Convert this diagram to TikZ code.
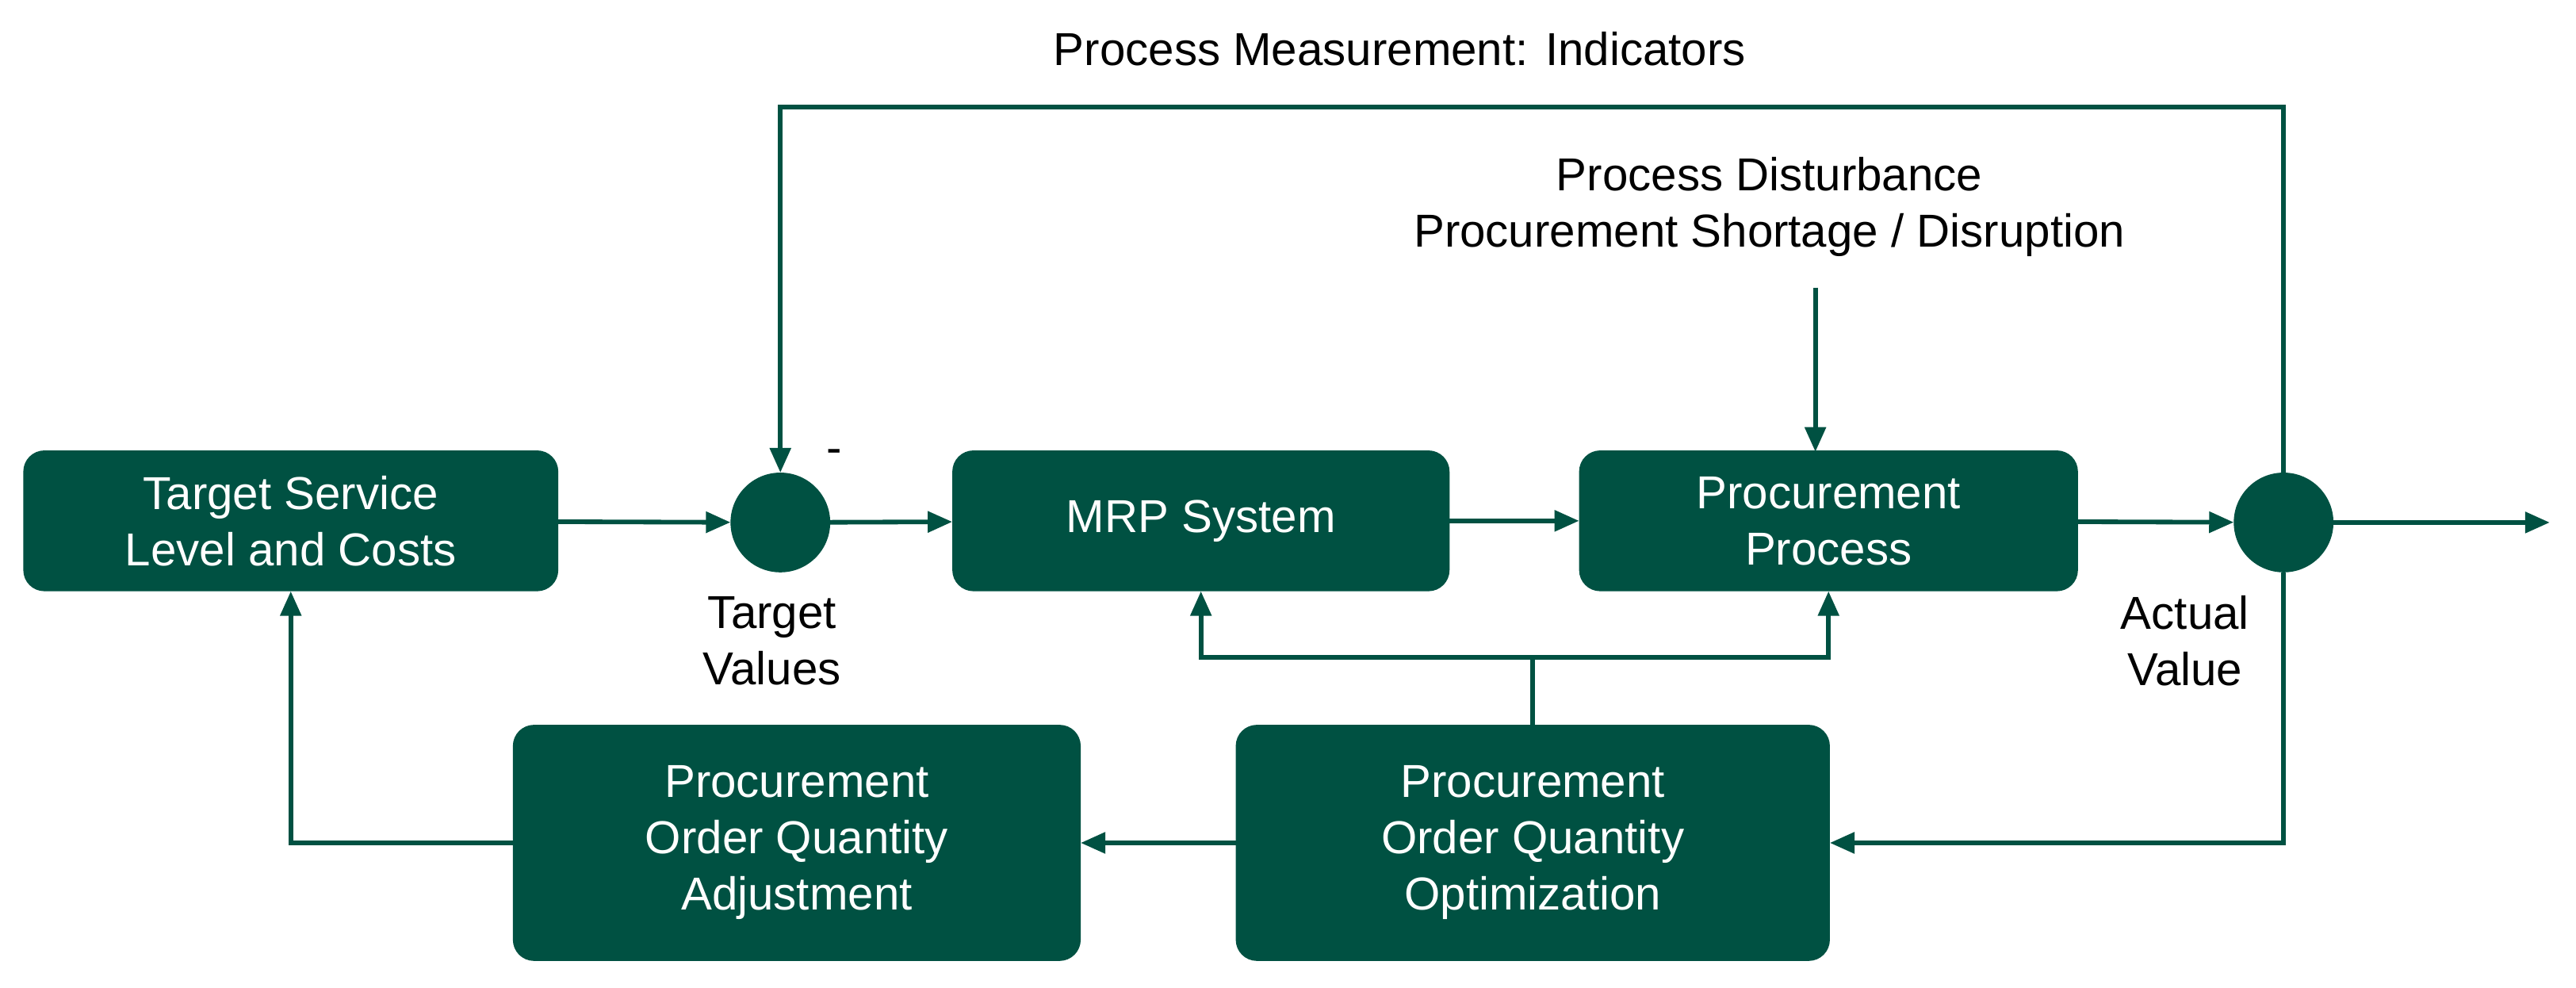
\documentclass[tikz,border=0pt]{standalone}
\usepackage{fontspec}
\setmainfont{Liberation Sans}
\usetikzlibrary{arrows.meta}
\definecolor{dg}{HTML}{005142}
\begin{document}
\begin{tikzpicture}[x=0.02cm,y=-0.02cm,
  box/.style={draw=dg,fill=dg,rounded corners=0.25cm,text=white,align=center,inner sep=0pt,font=\fontsize{16}{19.5}\selectfont},
  sum/.style={circle,fill=dg,draw=dg,minimum size=1.2cm,inner sep=0pt},
  lbl/.style={align=center,font=\fontsize{16}{19.5}\selectfont},
  ar/.style={draw=dg,line width=1.6pt,-{Triangle[length=0.3cm,width=0.25cm]}},
  ln/.style={draw=dg,line width=1.6pt}]
\useasboundingbox (0,0) rectangle (1568,601);
\node[box,minimum width=6.5cm,minimum height=1.7cm] (tsl) at (177,317) {Target Service\\Level and Costs};
\node[sum] (s1) at (475,318) {};
\node[box,minimum width=6.04cm,minimum height=1.7cm] (mrp) at (731,317) {MRP System};
\node[box,minimum width=6.06cm,minimum height=1.7cm] (pp) at (1113,317) {Procurement\\Process};
\node[sum] (s2) at (1390,318) {};
\coordinate (out) at (1552,318);
\node[box,minimum width=6.9cm,minimum height=2.86cm] (adj) at (485,513) {Procurement\\Order Quantity\\Adjustment};
\node[box,minimum width=7.22cm,minimum height=2.86cm] (opt) at (933,513) {Procurement\\Order Quantity\\Optimization};
\node[lbl] (pm) at (852,30) {Process Measurement: Indicators};
\node[lbl] (pd) at (1077,126) {Process Disturbance\\Procurement Shortage / Disruption};
\node[lbl] (minus) at (508,278) {-};
\node[lbl] (tv) at (470,390) {Target\\Values};
\node[lbl] (av) at (1330,390) {Actual\\Value};
\coordinate (split) at (933,400);
\draw[ar] (tsl) -- (s1);
\draw[ar] (s1) -- (mrp);
\draw[ar] (mrp) -- (pp);
\draw[ar] (pp) -- (s2);
\draw[ar] (s2) -- (out);
\draw[ar] (s2.north) -- (1390,65) -- (475,65) -- (s1.north);
\draw[ar] (1105,175) -- (1105,275);
\draw[ar] (s2.south) -- (1390,513) -- (opt.east);
\draw[ar] (opt.west) -- (adj.east);
\draw[ar] (adj.west) -- (177,513) -- (tsl.south);
\draw[ln] (opt.north) -- (split);
\draw[ar] (split) -- (731,400) -- (mrp.south);
\draw[ar] (split) -- (1113,400) -- (pp.south);
\end{tikzpicture}
\end{document}
